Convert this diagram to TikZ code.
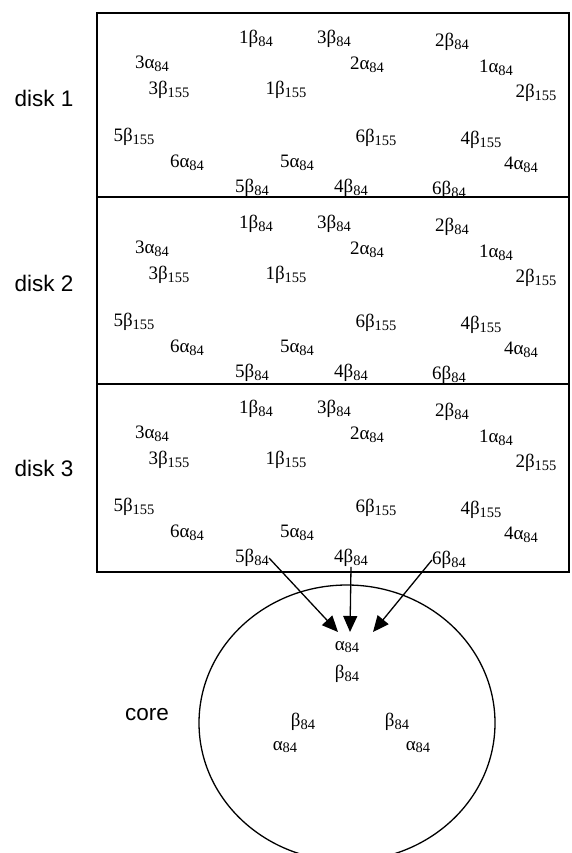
\documentclass[tikz,border=0pt]{standalone}
\usepackage{fontspec}
\setmainfont{Liberation Serif}
\setsansfont{Liberation Sans}
\usetikzlibrary{arrows.meta,shapes.geometric}
\newcommand{\lo}[1]{\raisebox{-0.3ex}{\fontsize{14.5}{14.5}\selectfont #1}}
\begin{document}
\begin{tikzpicture}
  [x=1pt, y=-1pt,
   lbl/.style={inner sep=0pt, font=\fontsize{19}{22}\selectfont},
   disklbl/.style={inner sep=0pt, font=\sffamily\fontsize{22.5}{26}\selectfont},
   feed/.style={line width=1.3pt, -{Triangle[length=16pt,width=14pt]}}]

  \useasboundingbox (0,0) rectangle (571,853);

  % the three disks
  \draw[line width=1.4pt] (97,13) rectangle (569,572);
  \draw[line width=1.4pt] (97,197) -- (569,197);
  \draw[line width=1.4pt] (97,384) -- (569,384);

  \foreach \k/\dy in {1/0, 2/185, 3/370} {
    \node[disklbl] (disk\k) at (44,98+\dy) {disk \k};
    \foreach \px/\py/\nm/\txt in {
        256/39/b1/1β\lo{84}, 334/39/b3/3β\lo{84}, 452/42/b2/2β\lo{84},
        152/64/a3/3α\lo{84}, 367/65/a2/2α\lo{84}, 496/68/a1/1α\lo{84},
        169/90/c3/3β\lo{155}, 286/90/c1/1β\lo{155}, 536/93/c2/2β\lo{155},
        134/137/c5/5β\lo{155}, 376/138/c6/6β\lo{155}, 481/140/c4/4β\lo{155},
        187/163/a6/6α\lo{84}, 297/163/a5/5α\lo{84}, 521/165/a4/4α\lo{84},
        252/188/b5/5β\lo{84}, 351/188/b4/4β\lo{84}, 449/190/b6/6β\lo{84}}
      \node[lbl] (d\k-\nm) at (\px,\py+\dy) {\txt};
  }

  % the core
  \node[ellipse, draw, line width=1.3pt, minimum width=296pt, minimum height=276pt] (core) at (347,723) {};
  \node[disklbl] (corelbl) at (147,715) {core};

  \node[lbl] (k1) at (347,647) {α\lo{84}};
  \node[lbl] (k2) at (347,674) {β\lo{84}};
  \node[lbl] (k3) at (303,722) {β\lo{84}};
  \node[lbl] (k4) at (285,747) {α\lo{84}};
  \node[lbl] (k5) at (397,722) {β\lo{84}};
  \node[lbl] (k6) at (418,747) {α\lo{84}};

  \coordinate (tipL) at (338,632);
  \coordinate (tipM) at (350,632);
  \coordinate (tipR) at (373,632);

  \draw[feed] (d3-b5.east) -- (tipL);
  \draw[feed] (d3-b4.south) -- (tipM);
  \draw[feed] (d3-b6.west) -- (tipR);
\end{tikzpicture}
\end{document}
